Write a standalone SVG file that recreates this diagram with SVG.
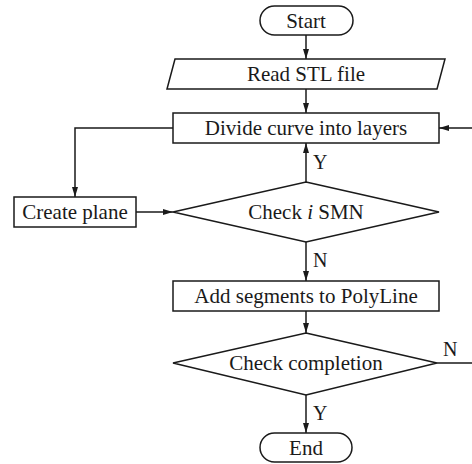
<svg xmlns="http://www.w3.org/2000/svg" width="472" height="464" viewBox="0 0 472 464">
  <style>
    .shape { fill: #ffffff; stroke: #1a1a1a; stroke-width: 1.5; }
    .edge { fill: none; stroke: #1a1a1a; stroke-width: 1.5; }
    .label { font-family: "Liberation Serif", "Times New Roman", serif; font-size: 21px; fill: #1a1a1a; text-anchor: middle; }
    .tag { font-family: "Liberation Serif", "Times New Roman", serif; font-size: 20px; fill: #1a1a1a; }
  </style>
  <defs>
    <marker id="arrow" viewBox="0 0 10 6" refX="10" refY="3" markerWidth="10" markerHeight="6" markerUnits="userSpaceOnUse" orient="auto">
      <path d="M0,0 L10,3 L0,6 Z" fill="#1a1a1a"/>
    </marker>
  </defs>
  <rect width="472" height="464" fill="#ffffff"/>

  <g id="connectors">
    <line class="edge" x1="306" y1="35" x2="306" y2="59" marker-end="url(#arrow)"/>
    <line class="edge" x1="306" y1="89" x2="306" y2="113" marker-end="url(#arrow)"/>
    <polyline class="edge" points="173,128 75,128 75,197" marker-end="url(#arrow)"/>
    <line class="edge" x1="136" y1="212" x2="173" y2="212" marker-end="url(#arrow)"/>
    <line class="edge" x1="306" y1="182" x2="306" y2="143" marker-end="url(#arrow)"/>
    <line class="edge" x1="306" y1="242" x2="306" y2="281" marker-end="url(#arrow)"/>
    <line class="edge" x1="306" y1="311" x2="306" y2="333" marker-end="url(#arrow)"/>
    <line class="edge" x1="306" y1="395" x2="306" y2="433" marker-end="url(#arrow)"/>
    <polyline class="edge" points="437,363 482,363 482,128 439,128" marker-end="url(#arrow)"/>
    <text class="tag" x="313" y="169">Y</text>
    <text class="tag" x="313" y="267">N</text>
    <text class="tag" x="313" y="420">Y</text>
    <text class="tag" x="443" y="356">N</text>
  </g>

  <g id="start">
    <rect class="shape" x="260" y="6" width="93" height="29" rx="14.5" ry="14.5"/>
    <text class="label" x="306" y="27.5">Start</text>
  </g>

  <g id="read-stl">
    <polygon class="shape" points="175,59 445,59 437,89 167,89"/>
    <text class="label" x="306" y="81">Read STL file</text>
  </g>

  <g id="divide-layers">
    <rect class="shape" x="173" y="113" width="266" height="30"/>
    <text class="label" x="306" y="135">Divide curve into layers</text>
  </g>

  <g id="create-plane">
    <rect class="shape" x="14" y="197" width="122" height="30"/>
    <text class="label" x="75" y="219">Create plane</text>
  </g>

  <g id="check-smn">
    <polygon class="shape" points="306,182 439,212 306,242 173,212"/>
    <text class="label" x="306" y="219">Check <tspan font-style="italic">i</tspan> SMN</text>
  </g>

  <g id="add-segments">
    <rect class="shape" x="173" y="281" width="266" height="30"/>
    <text class="label" x="306" y="303">Add segments to PolyLine</text>
  </g>

  <g id="check-completion">
    <polygon class="shape" points="306,333 437,363 306,395 173,363"/>
    <text class="label" x="306" y="370">Check completion</text>
  </g>

  <g id="end">
    <rect class="shape" x="260" y="433" width="92" height="29" rx="14.5" ry="14.5"/>
    <text class="label" x="306" y="454.5">End</text>
  </g>
</svg>
